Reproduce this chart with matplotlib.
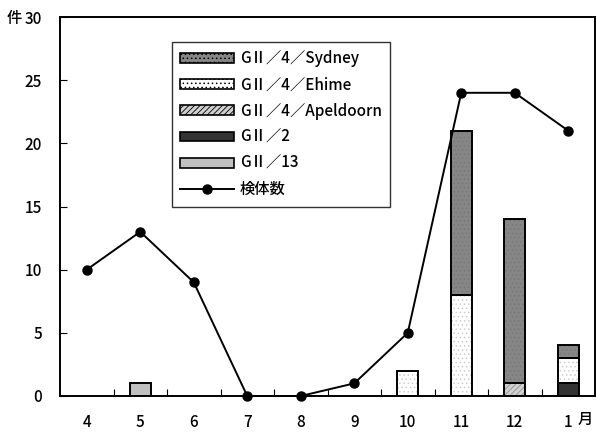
import numpy as np
import matplotlib.pyplot as plt
from matplotlib.patches import Patch
from matplotlib.lines import Line2D

plt.rcParams['font.family'] = ['Noto Sans CJK JP', 'DejaVu Sans']
plt.rcParams['font.weight'] = 'medium'

months = ["4", "5", "6", "7", "8", "9", "10", "11", "12", "1"]
sydney = [0, 0, 0, 0, 0, 0, 0, 13, 13, 1]
ehime = [0, 0, 0, 0, 0, 0, 2, 8, 0, 2]
apeldoorn = [0, 0, 0, 0, 0, 0, 0, 0, 1, 0]
g2_2 = [0, 0, 0, 0, 0, 0, 0, 0, 0, 1]
g2_13 = [0, 1, 0, 0, 0, 0, 0, 0, 0, 0]
specimens = [10, 13, 9, 0, 0, 1, 5, 24, 24, 21]

series = [
    ("GⅡ／4／Sydney", sydney, "#868686", "....", "#777777"),
    ("GⅡ／4／Ehime", ehime, "#ffffff", "....", "#cccccc"),
    ("GⅡ／4／Apeldoorn", apeldoorn, "#d0d0d0", "//////", "#8f8f8f"),
    ("GⅡ／2", g2_2, "#333333", None, None),
    ("GⅡ／13", g2_13, "#c0c0c0", None, None),
]
# stacking order from bottom
stack_order = ["GⅡ／2", "GⅡ／4／Apeldoorn", "GⅡ／13", "GⅡ／4／Ehime", "GⅡ／4／Sydney"]
lookup = {s[0]: s for s in series}

plt.rcParams['hatch.linewidth'] = 0.6

fig = plt.figure(figsize=(5.96, 4.34), dpi=100)
ax = fig.add_axes([60 / 596, 38 / 434, 535 / 596, 379 / 434])

x = np.arange(len(months))
bottom = np.zeros(len(months))
w = 0.4
for name in stack_order:
    _, vals, fc, hatch, hc = lookup[name]
    vals = np.array(vals, dtype=float)
    mask = vals > 0
    if hatch:
        ax.bar(x[mask], vals[mask], w, bottom=bottom[mask], facecolor=fc,
               hatch=hatch, edgecolor=hc, linewidth=0, zorder=2)
    else:
        ax.bar(x[mask], vals[mask], w, bottom=bottom[mask], facecolor=fc,
               linewidth=0, zorder=2)
    ax.bar(x[mask], vals[mask], w, bottom=bottom[mask], fill=False,
           edgecolor="black", linewidth=1.4, zorder=3)
    bottom += vals

ax.plot(x, specimens, color="black", lw=1.4, marker="o", markersize=6.5,
        zorder=4, clip_on=False)

ax.set_xlim(-0.5, 9.5)
ax.set_ylim(0, 30)
ax.set_yticks(range(0, 31, 5))
ax.set_xticks(x)
ax.set_xticklabels(months, fontsize=11)
ax.set_xticks(np.arange(0.5, 9.5, 1), minor=True)
ax.tick_params(axis="x", which="major", length=0, pad=13)
ax.tick_params(axis="x", which="minor", direction="in", length=5, width=0.8)
ax.tick_params(axis="y", direction="in", length=5, width=0.8, labelsize=11, pad=13)
for s in ax.spines.values():
    s.set_linewidth(1.4)

fig.text(585 / 596, 1 - 419 / 434, "月", fontsize=11, ha="center", va="center")
fig.text(14 / 596, 1 - 19 / 434, "件", fontsize=11, ha="center", va="center")

handles = []
labels = []
for name, vals, fc, hatch, hc in series:
    handles.append(Patch(facecolor=fc, edgecolor="black", linewidth=1.2,
                         hatch=hatch))
    labels.append(name)
handles.append(Line2D([], [], color="black", lw=1.4, marker="o", markersize=6.5))
labels.append("検体数")

leg = ax.legend(handles, labels, loc="upper left",
                bbox_to_anchor=(112 / 535, 1 - 25 / 379), fontsize=11,
                frameon=True, fancybox=False, edgecolor="black",
                handlelength=3.5, handleheight=0.6, labelspacing=0.6,
                handletextpad=0.4, borderpad=0.55, borderaxespad=0)
leg.get_frame().set_linewidth(1.0)

fig.savefig("out.png", dpi=100)
